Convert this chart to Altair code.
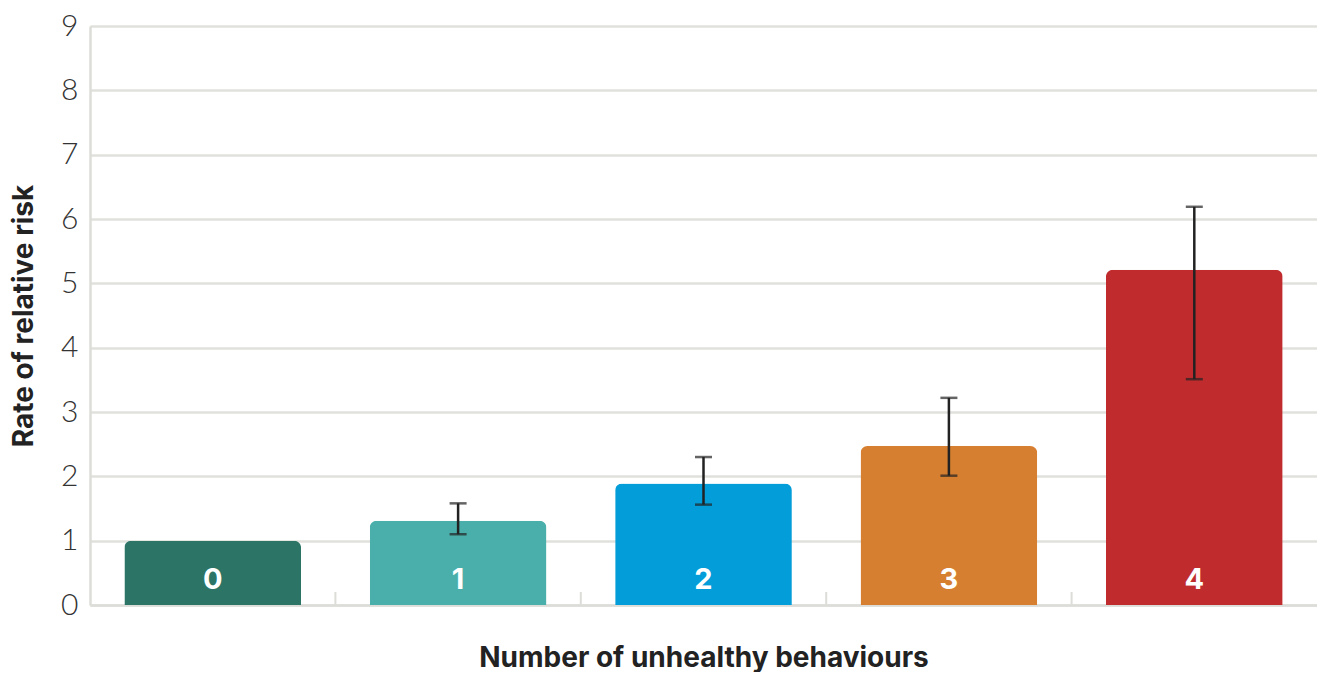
import altair as alt
import pandas as pd

categories = ["0", "1", "2", "3", "4"]
values = [1.0, 1.31, 1.89, 2.47, 5.21]
ci_low = [None, 1.10, 1.56, 2.01, 3.51]
ci_high = [None, 1.58, 2.30, 3.22, 6.19]
colors = ["#2c7566", "#4aafaa", "#039dd9", "#d67f31", "#c02c2e"]
y_ticks = [0, 1, 2, 3, 4, 5, 6, 7, 8, 9]

df = pd.DataFrame({"cat": categories, "val": values, "lo": ci_low, "hi": ci_high})
err = df.dropna()
bounds = df.iloc[1:]

W, H = 1227, 579
LFONT = "Lato"
TFONT = "Inter"
PI = 0.28

x = alt.X("cat:N", sort=categories,
          scale=alt.Scale(paddingInner=PI, paddingOuter=PI / 2),
          axis=alt.Axis(title="Number of unhealthy behaviours", labels=False, ticks=False,
                        domain=True, domainColor="#dcdcd8", domainWidth=2.5,
                        titleFont=TFONT, titleFontSize=28, titleFontWeight="bold",
                        titleColor="#222", titlePadding=39))
y = alt.Y("val:Q", scale=alt.Scale(domain=[0, 9], nice=False),
          axis=alt.Axis(title="Rate of relative risk", values=y_ticks, ticks=False, format="d",
                        domain=True, domainColor="#dcdcd8", domainWidth=2.5,
                        gridColor="#e0e0dc", gridWidth=2.5,
                        labelFont=LFONT, labelFontSize=30, labelFontWeight=300,
                        labelColor="#333", labelPadding=12,
                        titleFont=TFONT, titleFontSize=28, titleFontWeight="bold",
                        titleColor="#222", titlePadding=22))

bars = alt.Chart(df).mark_bar(cornerRadiusTopLeft=7, cornerRadiusTopRight=7).encode(
    x=x, y=y,
    color=alt.Color("cat:N", sort=categories,
                    scale=alt.Scale(domain=categories, range=colors), legend=None),
)

labels = alt.Chart(df).mark_text(font=TFONT, fontSize=29, fontWeight="bold",
                                 color="white", baseline="middle", dy=-25).encode(
    x=alt.X("cat:N", sort=categories), y=alt.datum(0), text="cat:N")

rules = alt.Chart(err).mark_rule(color="#222", strokeWidth=2.5).encode(
    x=alt.X("cat:N", sort=categories), y="lo:Q", y2="hi:Q")
cap_lo = alt.Chart(err).mark_tick(color="#222", thickness=2.5, size=17, orient="horizontal").encode(
    x=alt.X("cat:N", sort=categories), y="lo:Q")
cap_hi = alt.Chart(err).mark_tick(color="#222", thickness=2.5, size=17, orient="horizontal").encode(
    x=alt.X("cat:N", sort=categories), y="hi:Q")

main = alt.layer(bars, labels, rules, cap_lo, cap_hi)

sep = alt.Chart(bounds).mark_rule(color="#dcdcd8", strokeWidth=2).encode(
    x=alt.X("cat:N", sort=categories, bandPosition=0,
            scale=alt.Scale(domain=categories, paddingInner=0, paddingOuter=0), axis=None),
    y=alt.value(H), y2=alt.value(H - 13))

chart = alt.layer(sep, main).resolve_scale(x="independent").properties(
    width=W, height=H, padding={"left": 2, "top": 3, "right": 0, "bottom": 0}
).configure_view(stroke=None).configure_axisX(grid=False)

chart.save("out.html", embed_options={"renderer": "svg", "actions": False})
